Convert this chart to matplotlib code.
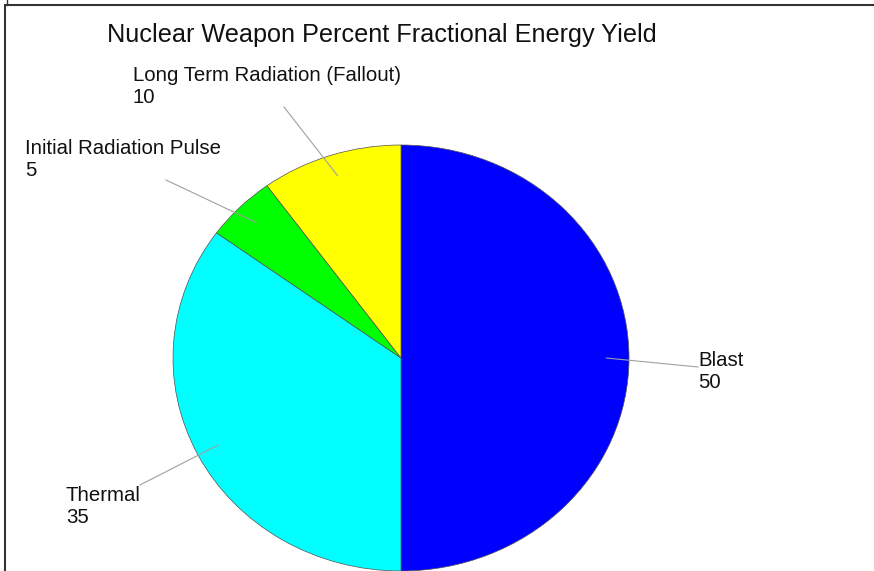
import matplotlib
matplotlib.use('Agg')
import matplotlib.pyplot as plt
from matplotlib.lines import Line2D
import numpy as np

plt.rcParams['font.family'] = ['Liberation Sans', 'DejaVu Sans']

labels = ['Blast', 'Thermal', 'Initial Radiation Pulse', 'Long Term Radiation (Fallout)']
values = [50, 35, 5, 10]
colors = ['#0000ff', '#00ffff', '#00ff00', '#ffff00']

W, H = 874, 571
cx, cy, rx, ry = 401, 358, 228, 213


def px(x, y):
    # pixel position -> data coords (pie radius = 1)
    return (x - cx) / rx, (cy - y) / ry


fig = plt.figure(figsize=(W / 100, H / 100), dpi=100)
ax = fig.add_axes([0, 0, 1, 1])
wedges, _ = ax.pie(values, colors=colors, startangle=90, counterclock=False,
                   wedgeprops=dict(edgecolor='#505050', linewidth=0.5))
ax.set_aspect('auto')
ax.set_xlim(-cx / rx, (W - cx) / rx)
ax.set_ylim(-(H - cy) / ry, cy / ry)
ax.axis('off')

# leader line ends and text positions (pixels, top-left of the label)
line_ends = [(698, 367), (140, 485), (166, 180), (284, 107)]
text_pos = [(698, 351), (66, 486), (25, 139), (133, 66)]

for w, lab, val, end, tp in zip(wedges, labels, values, line_ends, text_pos):
    ang = np.deg2rad((w.theta1 + w.theta2) / 2)
    x0, y0 = 0.9 * np.cos(ang), 0.9 * np.sin(ang)
    x1, y1 = px(*end)
    ax.plot([x0, x1], [y0, y1], color='#a0a0a0', lw=0.8)
    tx, ty = px(*tp)
    ax.text(tx, ty, '%s\n%d' % (lab, val), ha='left', va='top', fontsize=14.7,
            linespacing=1.2, color='#111111')

fig.text(382 / W, 1 - 23 / H, 'Nuclear Weapon Percent Fractional Energy Yield',
         ha='center', va='top', fontsize=18.2, color='#111111')

# frame lines
fig.add_artist(Line2D([7 / W, 1], [1 - 4.5 / H, 1 - 4.5 / H], color='#333333', lw=1.5))
fig.add_artist(Line2D([4.5 / W, 4.5 / W], [0, 1 - 4.5 / H], color='#333333', lw=1.5))
fig.add_artist(Line2D([7 / W, 7 / W], [1 - 4.5 / H, 1], color='#333333', lw=1.0))

fig.savefig('out.png', dpi=100)
